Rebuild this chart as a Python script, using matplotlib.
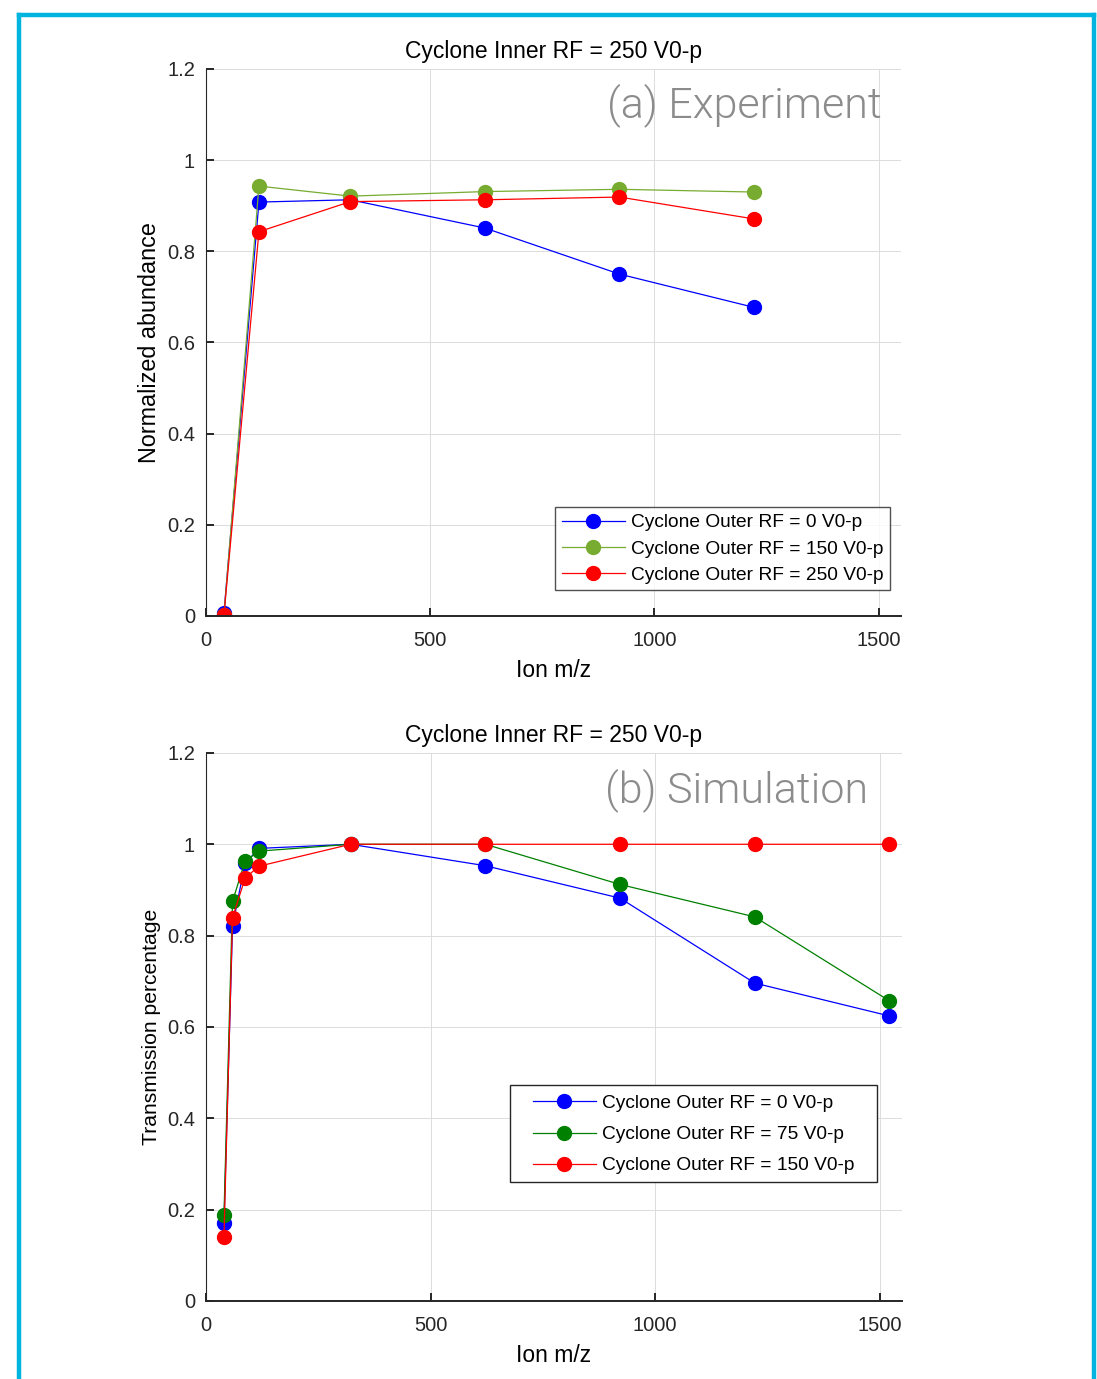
import matplotlib
matplotlib.use("Agg")
import matplotlib.pyplot as plt
from matplotlib.lines import Line2D
from matplotlib.patches import Rectangle

plt.rcParams['font.family'] = ['Liberation Sans', 'DejaVu Sans']
plt.rcParams['font.size'] = 14

# (a) experiment
mz_exp = [40, 118, 322, 622, 922, 1222]
exp_0 = [0.007, 0.908, 0.913, 0.851, 0.750, 0.677]
exp_150 = [0.003, 0.943, 0.921, 0.931, 0.936, 0.930]
exp_250 = [0.002, 0.843, 0.909, 0.913, 0.919, 0.871]
exp_labels = ["Cyclone Outer RF = 0 V0-p", "Cyclone Outer RF = 150 V0-p", "Cyclone Outer RF = 250 V0-p"]

# (b) simulation
mz_sim = [40, 59, 87, 118, 322, 622, 922, 1222, 1522]
sim_0 = [0.170, 0.821, 0.958, 0.991, 1.0, 0.953, 0.882, 0.696, 0.624]
sim_75 = [0.188, 0.875, 0.963, 0.985, 1.0, 1.0, 0.912, 0.841, 0.657]
sim_150 = [0.141, 0.839, 0.926, 0.952, 1.0, 1.0, 1.0, 1.0, 1.0]
sim_labels = ["Cyclone Outer RF = 0 V0-p", "Cyclone Outer RF = 75 V0-p", "Cyclone Outer RF = 150 V0-p"]

title = "Cyclone Inner RF = 250 V0-p"
yticks = [0, 0.2, 0.4, 0.6, 0.8, 1, 1.2]
ytick_labels = ["0", "0.2", "0.4", "0.6", "0.8", "1", "1.2"]
xticks = [0, 500, 1000, 1500]

fig = plt.figure(figsize=(10.97, 13.79), dpi=100)
fig.patch.set_facecolor("white")

ax1 = fig.add_axes([0.1878, 0.5533, 0.6336, 0.3967])
ax2 = fig.add_axes([0.1878, 0.0566, 0.6345, 0.3974])


def style(ax):
    ax.set_xlim(0, 1550)
    ax.set_ylim(0, 1.2)
    ax.set_xticks(xticks)
    ax.set_yticks(yticks)
    ax.set_yticklabels(ytick_labels)
    ax.grid(True, color="#dcdcdc", linewidth=0.7)
    ax.set_axisbelow(True)
    ax.spines["top"].set_visible(False)
    ax.spines["right"].set_visible(False)
    ax.spines["left"].set_color("#262626")
    ax.spines["bottom"].set_color("#262626")
    ax.spines["left"].set_linewidth(0.8)
    ax.spines["bottom"].set_linewidth(1.4)
    ax.tick_params(direction="in", length=6, width=1.4, color="#262626",
                   labelcolor="#262626", labelsize=14.5)
    ax.tick_params(axis="x", pad=11)
    ax.tick_params(axis="y", pad=8)
    ax.set_title(title, fontsize=16.5, pad=8)
    ax.set_xlabel("Ion m/z", fontsize=16.5, labelpad=6)


mk = dict(marker="o", markersize=10, linewidth=0.9)

ax1.plot(mz_exp, exp_0, color="#0000ff", label=exp_labels[0], **mk)
ax1.plot(mz_exp, exp_150, color="#77ac30", label=exp_labels[1], **mk)
ax1.plot(mz_exp, exp_250, color="#ff0000", label=exp_labels[2], **mk)
style(ax1)
ax1.set_ylabel("Normalized abundance", fontsize=16.8, labelpad=4)
ax1.text(0.972, 0.934, "(a) Experiment", transform=ax1.transAxes, ha="right", va="center",
         fontsize=31, color="#8c8c8c", family="Roboto", fontweight=300)
leg1 = ax1.legend(loc="lower right", bbox_to_anchor=(0.984, 0.047), fontsize=13.8,
                  frameon=True, fancybox=False, edgecolor="#262626", handlelength=3.3,
                  borderpad=0.35, labelspacing=0.45, handletextpad=0.3, borderaxespad=0)
leg1.get_frame().set_linewidth(1.0)

ax2.plot(mz_sim, sim_0, color="#0000ff", label=sim_labels[0], **mk)
ax2.plot(mz_sim, sim_75, color="#008000", label=sim_labels[1], **mk)
ax2.plot(mz_sim, sim_150, color="#ff0000", label=sim_labels[2], **mk)
style(ax2)
ax2.set_ylabel("Transmission percentage", fontsize=15.2, labelpad=4)
ax2.text(0.951, 0.9325, "(b) Simulation", transform=ax2.transAxes, ha="right", va="center",
         fontsize=31, color="#8c8c8c", family="Roboto", fontweight=300)
# the simulation legend has a wider box than its entries need
box_x0, box_x1, box_y0, box_y1 = 0.4368, 0.964, 0.2172, 0.394
ax2.add_patch(Rectangle((box_x0, box_y0), box_x1 - box_x0, box_y1 - box_y0,
                        transform=ax2.transAxes, facecolor="white", edgecolor="#262626",
                        linewidth=1.0, zorder=4))
leg2 = ax2.legend(loc="center", bbox_to_anchor=((box_x0 + box_x1) / 2, (box_y0 + box_y1) / 2 - 0.002),
                  fontsize=13.8, frameon=False, handlelength=3.3,
                  borderpad=0.0, labelspacing=0.72, handletextpad=0.3, borderaxespad=0)
leg2.set_zorder(5)

# cyan frame around the figure
cyan = "#00b4e0"
fx0, fx1, fy1 = 18.5 / 1097, 1093.5 / 1097, 1 - 15 / 1379
for xs, ys in [([fx0, fx0], [0, fy1]), ([fx0, fx1], [fy1, fy1]), ([fx1, fx1], [fy1, 0])]:
    fig.add_artist(Line2D(xs, ys, transform=fig.transFigure, color=cyan, linewidth=3.2))

fig.savefig("out.png", dpi=100)
